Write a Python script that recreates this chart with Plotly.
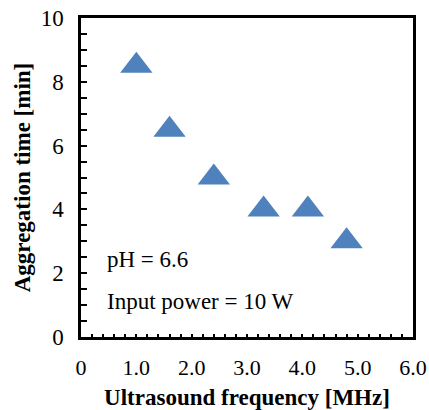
import plotly.graph_objects as go

# Data
frequency_mhz = [1.0, 1.6, 2.4, 3.3, 4.1, 4.8]
aggregation_time_min = [8.5, 6.5, 5.0, 4.0, 4.0, 3.0]
x_tick_vals = [0, 1, 2, 3, 4, 5, 6]
x_tick_text = ["0", "1.0", "2.0", "3.0", "4.0", "5.0", "6.0"]
y_tick_vals = [0, 2, 4, 6, 8, 10]
annotations_text = ["pH = 6.6", "Input power = 10 W"]

FONT = "Liberation Serif"

fig = go.Figure()
fig.add_trace(go.Scatter(
    x=frequency_mhz, y=aggregation_time_min, mode="markers",
    marker=dict(symbol="triangle-up", size=28, color="#4F81BD",
                line=dict(width=0)),
    showlegend=False, cliponaxis=False,
))

fig.update_layout(
    width=429, height=410,
    margin=dict(l=81, r=16, t=18, b=73),
    paper_bgcolor="white", plot_bgcolor="white",
    font=dict(family=FONT, size=22, color="black"),
    xaxis=dict(
        range=[0, 6], tickvals=x_tick_vals, ticktext=x_tick_text,
        ticks="inside", ticklen=3, tickwidth=2, tickcolor="black",
        minor=dict(dtick=0.2, ticks="inside", ticklen=3, tickwidth=2, tickcolor="black"),
        showline=True, linewidth=2.5, linecolor="black", mirror=True,
        showgrid=False, zeroline=False, automargin=False,
        ticklabelstandoff=9,
        tickfont=dict(family=FONT, size=22),
        title=dict(text="<b>Ultrasound frequency [MHz]</b>",
                   font=dict(family=FONT, size=23), standoff=10),
    ),
    yaxis=dict(
        range=[0, 10], tickvals=y_tick_vals,
        ticks="inside", ticklen=6, tickwidth=2, tickcolor="black",
        minor=dict(dtick=0.5, ticks="inside", ticklen=6, tickwidth=2, tickcolor="black"),
        showline=True, linewidth=2.5, linecolor="black", mirror=True,
        showgrid=False, zeroline=False, automargin=False,
        ticklabelstandoff=10,
        tickfont=dict(family=FONT, size=23),
        title=dict(text="<b>Aggregation time [min]</b>",
                   font=dict(family=FONT, size=23), standoff=4),
    ),
    annotations=[
        dict(text=annotations_text[0], xref="paper", yref="paper", x=0.072, y=0.243,
             xanchor="left", yanchor="middle", showarrow=False,
             font=dict(family=FONT, size=23)),
        dict(text=annotations_text[1], xref="paper", yref="paper", x=0.072, y=0.11,
             xanchor="left", yanchor="middle", showarrow=False,
             font=dict(family=FONT, size=23)),
    ],
)

fig.write_html("out.html")
